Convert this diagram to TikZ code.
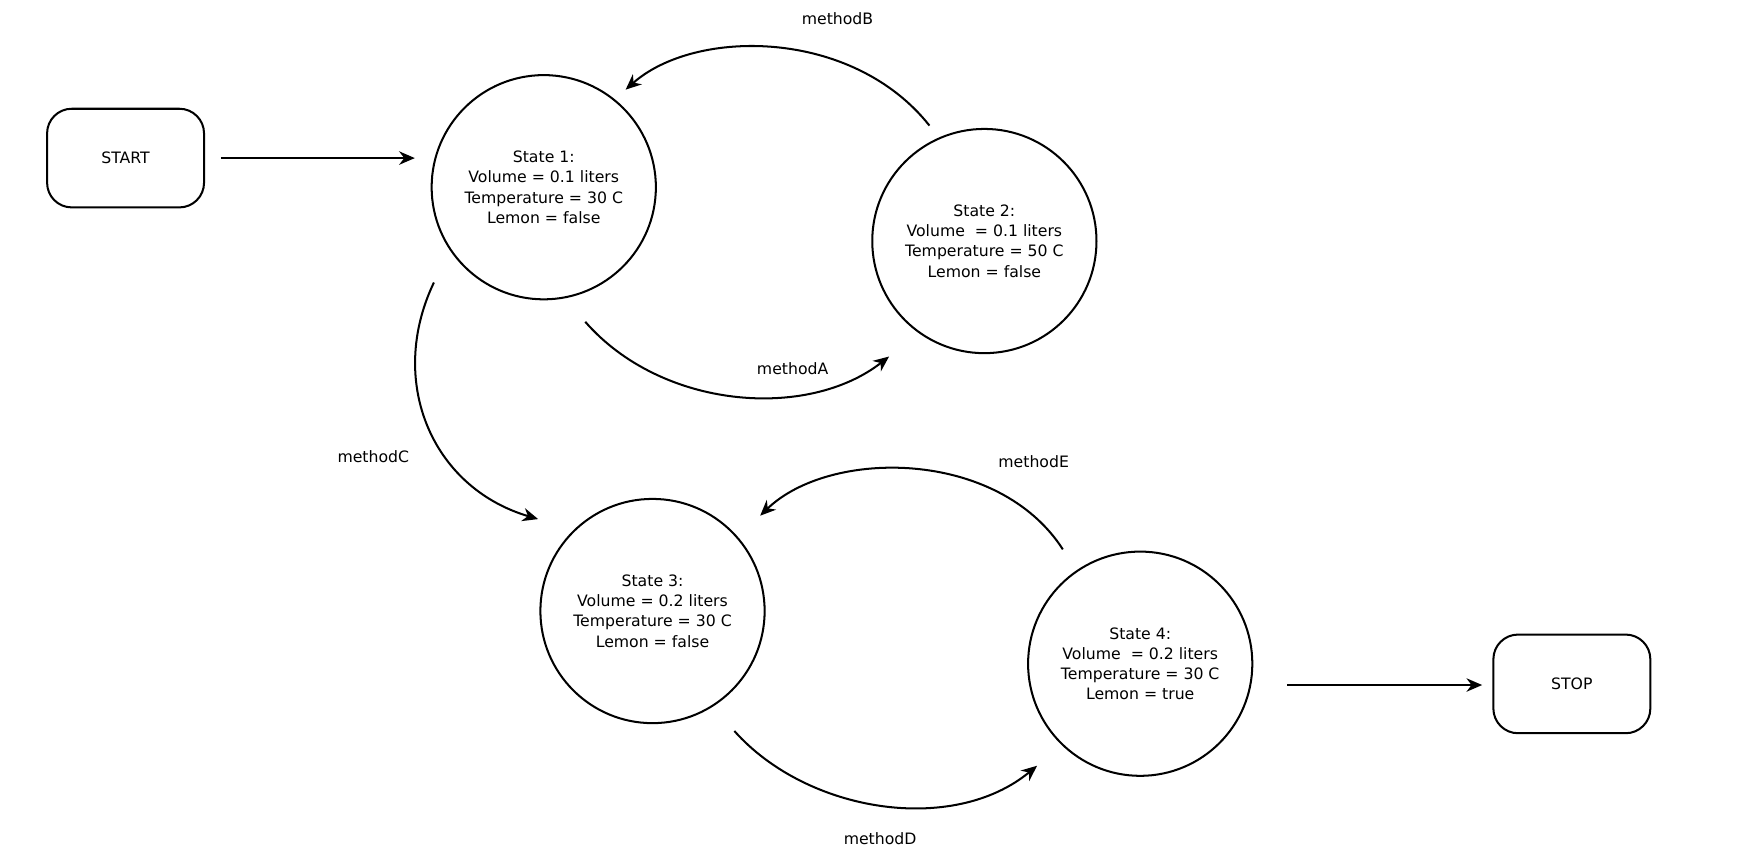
\documentclass[tikz,border=0pt]{standalone}
\usepackage{fontspec}
\setmainfont{DejaVu Sans}
\usetikzlibrary{arrows.meta}
\begin{document}
\begin{tikzpicture}[x=0.5pt,y=-0.5pt,
  every node/.style={font=\fontsize{7}{9}\selectfont},
  st/.style={draw,circle,line width=0.9pt,minimum size=100pt,align=center,inner sep=0pt},
  term/.style={draw,rounded corners=11pt,line width=0.9pt,minimum width=70pt,minimum height=44pt},
  conn/.style={line width=0.9pt,-{Stealth[length=7pt,width=6pt]}},
  lbl/.style={}]
\useasboundingbox[fill=white] (0,0) rectangle (1560,764);
\node[term] (start) at (112,141) {START};
\node[term] (stop) at (1402,610) {STOP};
\node[st] (s1) at (485,167) {State 1:\\Volume = 0.1 liters\\Temperature = 30 C\\Lemon = false};
\node[st] (s2) at (878,215) {State 2:\\Volume \ = 0.1 liters\\Temperature = 50 C\\Lemon = false};
\node[st] (s3) at (582,545) {State 3:\\Volume = 0.2 liters\\Temperature = 30 C\\Lemon = false};
\node[st] (s4) at (1017,592) {State 4:\\Volume \ = 0.2 liters\\Temperature = 30 C\\Lemon = true};
\coordinate (a0) at (197,141); \coordinate (a1) at (370,141);
\coordinate (z0) at (1148,611); \coordinate (z1) at (1322,611);
\coordinate (b0) at (829,112); \coordinate (b1) at (558,80);
\coordinate (ma0) at (522,287); \coordinate (ma1) at (793,318);
\coordinate (c0) at (387,252); \coordinate (c1) at (480,463);
\coordinate (e0) at (948,490); \coordinate (e1) at (678,460);
\coordinate (d0) at (655,652); \coordinate (d1) at (925,683);
\draw[conn] (a0) -- (a1);
\draw[conn] (z0) -- (z1);
\draw[conn] (b0) .. controls (760,25) and (620,25) .. (b1);
\draw[conn] (ma0) .. controls (590,365) and (720,375) .. (ma1);
\draw[conn] (c0) .. controls (345,340) and (385,435) .. (c1);
\draw[conn] (e0) .. controls (890,400) and (740,400) .. (e1);
\draw[conn] (d0) .. controls (720,725) and (850,745) .. (d1);
\node (lb) at (747,17) {methodB};
\node (la) at (707,329) {methodA};
\node (lc) at (333,407) {methodC};
\node (le) at (922,412) {methodE};
\node (ld) at (785,748) {methodD};
\end{tikzpicture}
\end{document}
